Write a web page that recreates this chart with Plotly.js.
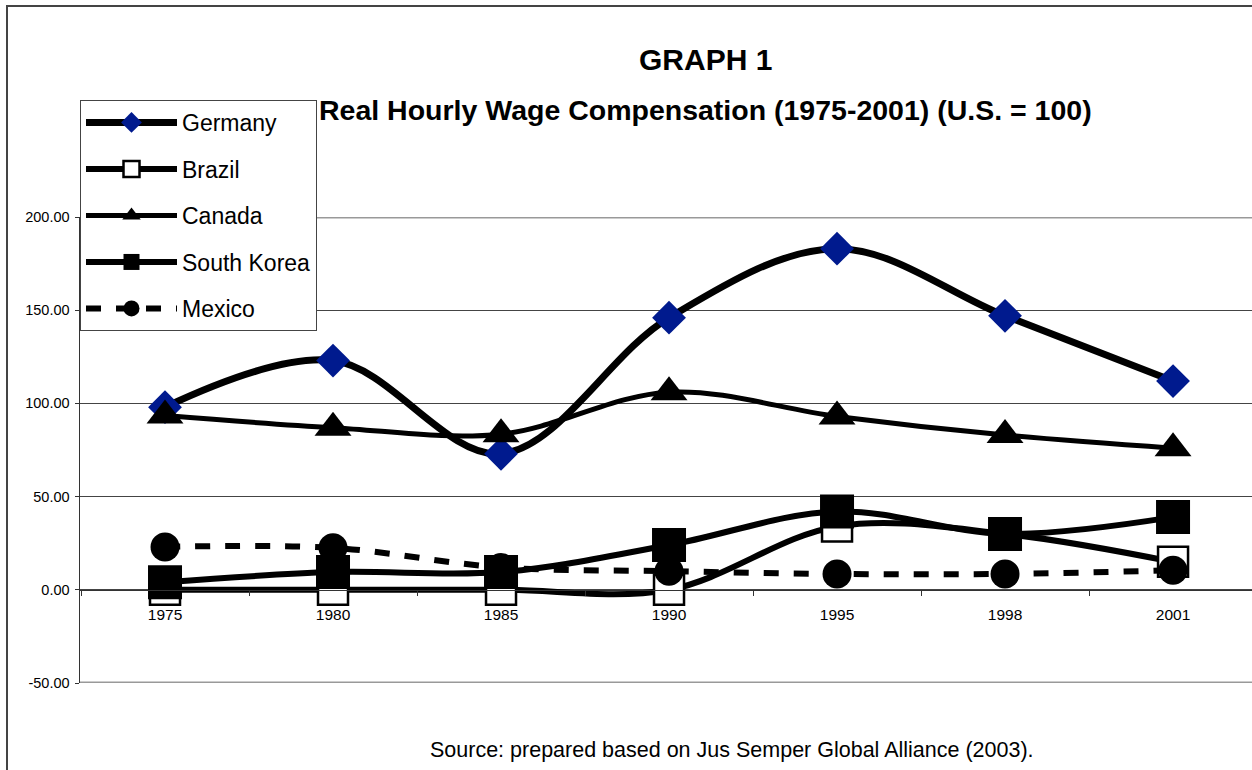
<!DOCTYPE html>
<html>
<head>
<meta charset="utf-8">
<script src="https://cdn.plot.ly/plotly-3.0.1.min.js"></script>
<style>html,body{margin:0;padding:0;background:#fff;}#chart{width:1252px;height:770px;}</style>
</head>
<body>
<div id="chart"></div>
<script>
// ---- data ----
const years = ['1975', '1980', '1985', '1990', '1995', '1998', '2001'];
const germany = [98, 123, 73, 146, 183, 147, 112];
const brazil = [0, 0, 0, 0, 34, 30, 15];
const canada = [93.5, 87, 83.5, 106, 93, 83, 76];
const southKorea = [4, 9.5, 9.5, 24, 42, 30, 39];
const mexico = [23, 22.5, 12, 10, 8.5, 8.5, 10.5];
const yTickVals = [-50, 0, 50, 100, 150, 200];
const yTickText = ['-50.00', '0.00', '50.00', '100.00', '150.00', '200.00'];

const SANS = '"Liberation Sans", Arial, sans-serif';

function tr(name, y, rank, line, marker) {
  return {
    type: 'scatter', mode: 'lines+markers', name: name, x: years, y: y,
    legendgroup: name, legendrank: rank,
    line: Object.assign({shape: 'spline', smoothing: 1, color: '#000'}, line),
    marker: marker, cliponaxis: false
  };
}

const data = [
  tr('Germany', germany, 1, {width: 7}, {symbol: 'diamond', size: 26, color: '#001a8e', line: {width: 0}}),
  tr('Brazil', brazil, 2, {width: 6}, {symbol: 'square', size: 30, color: '#fff', line: {width: 2.5, color: '#000'}}),
  tr('Canada', canada, 3, {width: 5}, {symbol: 'triangle-up', size: 32, color: '#000', line: {width: 0}}),
  tr('Mexico', mexico, 5, {width: 6, dash: '15px,15px'}, {symbol: 'circle', size: 29, color: '#000', line: {width: 0}}),
  tr('South Korea', southKorea, 4, {width: 6}, {symbol: 'square', size: 34, color: '#000', line: {width: 0}})
];

// pixel helpers for paper coords (plot area x:80..1252, y:217..683)
const px = x => (x - 80) / 1172;
const py = y => (683 - y) / 466;

const layout = {
  width: 1252, height: 770, autosize: false,
  margin: {l: 80, r: 0, t: 217, b: 87, pad: 0},
  paper_bgcolor: '#fff', plot_bgcolor: '#fff',
  showlegend: true,
  legend: {
    x: 0, y: py(100), xanchor: 'left', yanchor: 'top',
    bgcolor: '#fff', bordercolor: '#444', borderwidth: 1,
    font: {family: SANS, size: 23, color: '#000'},
    itemwidth: 91, traceorder: 'grouped', tracegroupgap: 13.6
  },
  xaxis: {
    type: 'category', range: [-0.506, 6.47], anchor: 'free', position: 0.2,
    showgrid: false, zeroline: false, showline: true, linecolor: '#333', linewidth: 1,
    ticks: 'outside', tickson: 'boundaries', ticklen: 5, tickcolor: '#333', tickwidth: 1,
    tickfont: {family: SANS, size: 15.5, color: '#000'}, ticklabelstandoff: 11,
    fixedrange: true
  },
  yaxis: {
    range: [-50, 200], tickvals: yTickVals, ticktext: yTickText,
    showgrid: true, gridcolor: '#444', gridwidth: 1, zeroline: false,
    showline: true, linecolor: '#333', linewidth: 1.5,
    ticks: 'outside', ticklen: 4, tickcolor: '#333',
    tickfont: {family: SANS, size: 14.5, color: '#000'}, ticklabelstandoff: 2,
    fixedrange: true
  },
  shapes: [
    {type: 'line', xref: 'paper', yref: 'y', x0: 0, x1: 1, y0: 200, y1: 200, line: {color: '#999', width: 3}, layer: 'between'},
    {type: 'line', xref: 'paper', yref: 'y', x0: 0, x1: 1, y0: -50, y1: -50, line: {color: '#999', width: 3}, layer: 'between'},
    {type: 'line', xref: 'paper', yref: 'paper', x0: px(7), x1: px(7), y0: py(775), y1: py(6), line: {color: '#444', width: 2}},
    {type: 'line', xref: 'paper', yref: 'paper', x0: px(6), x1: 1.02, y0: py(6), y1: py(6), line: {color: '#444', width: 2}}
  ],
  annotations: [
    {xref: 'paper', yref: 'paper', x: px(705), y: py(59), xanchor: 'center', yanchor: 'middle', showarrow: false,
     text: '<b>GRAPH 1</b>', font: {family: SANS, size: 30, color: '#000'}},
    {xref: 'paper', yref: 'paper', x: px(705), y: py(110), xanchor: 'center', yanchor: 'middle', showarrow: false,
     text: '<b>Real Hourly Wage Compensation (1975-2001) (U.S. = 100)</b>', font: {family: SANS, size: 28.5, color: '#000'}},
    {xref: 'paper', yref: 'paper', x: px(732), y: py(750), xanchor: 'center', yanchor: 'middle', showarrow: false,
     text: 'Source: prepared based on Jus Semper Global Alliance (2003).', font: {family: SANS, size: 21.5, color: '#000'}}
  ]
};

Plotly.newPlot('chart', data, layout, {displayModeBar: false, staticPlot: true});
</script>
</body>
</html>
